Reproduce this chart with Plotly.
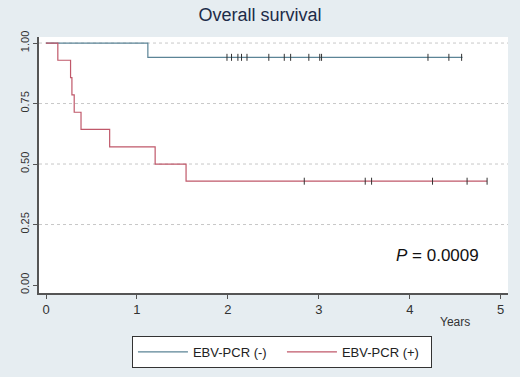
import plotly.graph_objects as go

# Kaplan-Meier step data
neg_times = [0, 1.12, 4.58]
neg_surv = [1.0, 0.941, 0.941]
neg_cens_times = [1.99, 2.04, 2.11, 2.15, 2.21, 2.45, 2.62, 2.69, 2.89, 3.01, 3.03, 4.20, 4.43, 4.57]
neg_cens_surv = [0.941] * len(neg_cens_times)

pos_times = [0, 0.13, 0.27, 0.285, 0.31, 0.385, 0.70, 1.20, 1.54, 4.85]
pos_surv = [1.0, 0.929, 0.857, 0.786, 0.714, 0.643, 0.571, 0.5, 0.429, 0.429]
pos_cens_times = [2.84, 3.51, 3.58, 4.25, 4.63, 4.85]
pos_cens_surv = [0.429] * len(pos_cens_times)

x_ticks = [0, 1, 2, 3, 4, 5]
y_ticks = [0, 0.25, 0.5, 0.75, 1.0]
y_labels = ["0.00", "0.25", "0.50", "0.75", "1.00"]
grid_vals = [0.25, 0.5, 0.75, 1.0]

BLUE = "#5b8496"
RED = "#c0586a"
BG = "#e6edf1"

fig = go.Figure()
for g in grid_vals:
    fig.add_hline(y=g, line=dict(color="#c8c8c8", width=1, dash="dot"), layer="below")

fig.add_trace(go.Scatter(x=neg_times, y=neg_surv, mode="lines", line_shape="hv",
                         line=dict(color=BLUE, width=1.2), name="EBV-PCR (-)"))
fig.add_trace(go.Scatter(x=pos_times, y=pos_surv, mode="lines", line_shape="hv",
                         line=dict(color=RED, width=1.2), name="EBV-PCR (+)"))
fig.add_trace(go.Scatter(x=neg_cens_times, y=neg_cens_surv, mode="markers", showlegend=False,
                         marker=dict(symbol="line-ns", size=5, line=dict(color="#333333", width=1))))
fig.add_trace(go.Scatter(x=pos_cens_times, y=pos_cens_surv, mode="markers", showlegend=False,
                         marker=dict(symbol="line-ns", size=5, line=dict(color="#333333", width=1))))

fig.update_layout(
    width=520, height=377,
    margin=dict(l=39, r=12, t=37, b=84, autoexpand=False),
    paper_bgcolor=BG,
    plot_bgcolor="white",
    font=dict(family="Liberation Sans, Arial, sans-serif", color="#222222"),
    title=dict(text="Overall survival", x=0.5, xanchor="center", y=1 - 15 / 377, yanchor="middle",
               yref="container", font=dict(size=18, color="#1c2b48")),
    showlegend=True,
    legend=dict(orientation="h", x=0.518, xanchor="center", y=-0.168, yanchor="top",
                bgcolor="white", bordercolor="#333333", borderwidth=1,
                font=dict(size=13, color="#222222"), itemwidth=50,
                entrywidth=84, entrywidthmode="pixels"),
    xaxis=dict(range=[-0.077, 5.08], tickvals=x_ticks, showgrid=False, zeroline=False,
               showline=True, linecolor="#555555", linewidth=1.5, ticks="outside",
               ticklen=4, tickcolor="#555555", tickfont=dict(size=13, color="#333333"),
               automargin=False),
    yaxis=dict(range=[-0.033, 1.025], tickvals=y_ticks, ticktext=y_labels, tickangle=-90,
               showgrid=False, zeroline=False,
               showline=True, linecolor="#555555", linewidth=1.5, ticks="outside",
               ticklen=4, tickcolor="#555555", tickfont=dict(size=11, color="#333333"),
               automargin=False),
    annotations=[
        dict(text="Years", x=4.5, xref="x", y=-(322 - 293) / 256, yref="paper", yanchor="middle",
             showarrow=False, font=dict(size=12, color="#333333")),
        dict(text="<i>P</i> = 0.0009", x=4.30, xref="x", y=0.124, yref="y", showarrow=False,
             font=dict(size=17, color="#111111")),
    ],
)

fig.write_html("out.html", config={"displayModeBar": False},
               post_script="document.body.style.margin='0';document.body.style.background='%s';" % BG)
